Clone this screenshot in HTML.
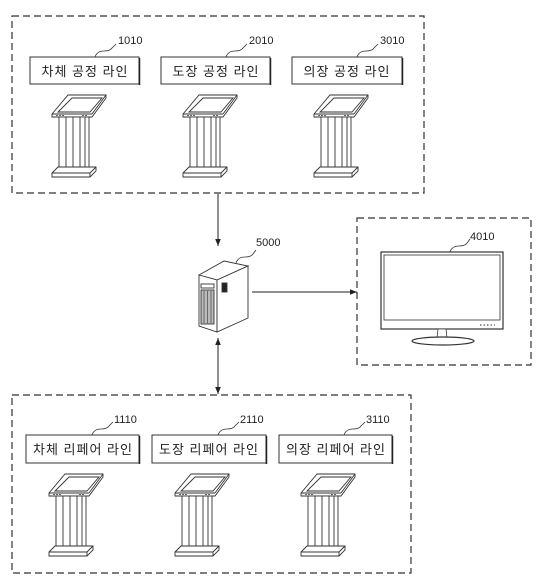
<!DOCTYPE html>
<html><head><meta charset="utf-8"><style>
html,body{margin:0;padding:0;background:#fff;}
svg{display:block}
text{font-family:"Liberation Sans","Noto Sans CJK KR",sans-serif;fill:#222}
</style></head><body>
<svg width="541" height="588" viewBox="0 0 541 588" xmlns="http://www.w3.org/2000/svg">
<defs>
<g id="k" fill="#fff" stroke="#333" stroke-width="0.9">
  <polygon points="16,0 54,0 54,3 40,22 0,22 0,19"/>
  <polygon points="20,3 50,3 38,17 6,17"/>
  <line x1="0" y1="19" x2="40" y2="19"/><line x1="40" y1="19" x2="54" y2="0"/>
  <g stroke-width="0.8"><line x1="4" y1="20.5" x2="13" y2="20.5" stroke-dasharray="2,1"/><line x1="30" y1="20.5" x2="35" y2="20.5" stroke-dasharray="2,1"/></g>
  <rect x="7" y="22" width="30" height="51"/>
  <line x1="14" y1="22" x2="14" y2="73"/><line x1="21" y1="22" x2="21" y2="73"/><line x1="28" y1="22" x2="28" y2="73"/><line x1="33" y1="22" x2="33" y2="73"/>
  <polygon points="0,78 6,72 44,72 44,76 38,82 0,82"/>
  <line x1="0" y1="78" x2="38" y2="78"/><line x1="38" y1="78" x2="44" y2="72"/><line x1="38" y1="78" x2="38" y2="82"/>
</g>
<marker id="a" viewBox="0 0 10 10" refX="10" refY="5" markerWidth="7" markerHeight="7" orient="auto-start-reverse"><path d="M0,1 L10,5 L0,9z" fill="#222"/></marker>
</defs>
<g fill="none" stroke="#333" stroke-width="1.2" stroke-dasharray="7,4">
  <rect x="12" y="16" width="412" height="177"/>
  <rect x="357" y="218" width="174" height="147"/>
  <rect x="12" y="395" width="399" height="178"/>
</g>
<g fill="#fff" stroke="#333" stroke-width="1">
  <rect x="30" y="57" width="109" height="27"/><rect x="161" y="57" width="109" height="27"/><rect x="292" y="57" width="110" height="27"/>
  <rect x="26" y="435" width="113" height="28"/><rect x="152" y="435" width="114" height="28"/><rect x="279" y="435" width="113" height="28"/>
</g>
<g stroke="#222" stroke-width="1.5"><line x1="139.5" y1="58" x2="139.5" y2="85"/><line x1="270.5" y1="58" x2="270.5" y2="85"/><line x1="402.5" y1="58" x2="402.5" y2="85"/><line x1="139.5" y1="436" x2="139.5" y2="464"/><line x1="266.5" y1="436" x2="266.5" y2="464"/><line x1="392.5" y1="436" x2="392.5" y2="464"/></g>
<g font-size="13" text-anchor="middle" letter-spacing="1" fill="#333">
  <text x="85" y="76">차체 공정 라인</text><text x="216" y="76">도장 공정 라인</text><text x="347" y="76">의장 공정 라인</text>
  <text x="83" y="454">차체 리페어 라인</text><text x="209" y="454">도장 리페어 라인</text><text x="336" y="454">의장 리페어 라인</text>
</g>
<g font-size="11">
  <text x="118" y="44">1010</text><text x="249" y="44">2010</text><text x="380" y="44">3010</text>
  <text x="114" y="423">1110</text><text x="240" y="423">2110</text><text x="366" y="423">3110</text>
  <text x="256" y="246">5000</text><text x="470" y="240">4010</text>
</g>
<g fill="none" stroke="#333" stroke-width="0.8">
  <path d="M95,57 q2,-6 9,-6 q6,0 8,-3 l4,-4"/><path d="M226,57 q2,-6 9,-6 q6,0 8,-3 l4,-4"/><path d="M357,57 q2,-6 9,-6 q6,0 8,-3 l4,-4"/>
  <path d="M92,435 q2,-6 9,-6 q6,0 8,-3 l4,-4"/><path d="M218,435 q2,-6 9,-6 q6,0 8,-3 l4,-4"/><path d="M344,435 q2,-6 9,-6 q6,0 8,-3 l4,-4"/>
  <path d="M236,263 q2,-6 9,-6 q6,0 8,-3 l3,-4"/><path d="M450,252 q2,-6 9,-6 q6,0 8,-3 l3,-4"/>
</g>
<use href="#k" x="52" y="95"/><use href="#k" x="183" y="95"/><use href="#k" x="314" y="95"/>
<use href="#k" x="49" y="474"/><use href="#k" x="175" y="474"/><use href="#k" x="301" y="474"/>
<g stroke="#222" stroke-width="1" fill="none">
  <line x1="218" y1="194" x2="218" y2="246" marker-end="url(#a)"/>
  <line x1="252" y1="292" x2="357" y2="292" marker-end="url(#a)"/>
  <line x1="218" y1="338" x2="218" y2="394" marker-start="url(#a)" marker-end="url(#a)"/>
</g>
<g stroke="#333" stroke-width="0.9" fill="#fff">
  <polygon points="199,275 224,261 248,266 217,280"/>
  <polygon points="199,275 217,280 217,332 199,326"/>
  <polygon points="217,280 248,266 248,318 217,332"/>
  <rect x="201" y="284" width="13" height="4"/>
  <rect x="201" y="290" width="13" height="34" fill="#bbb"/>
  <g stroke="#555" stroke-width="0.8"><line x1="204" y1="291" x2="204" y2="323"/><line x1="207.5" y1="291" x2="207.5" y2="323"/><line x1="211" y1="291" x2="211" y2="323"/></g>
  <rect x="222" y="283" width="5" height="9" fill="#222"/>
</g>
<g stroke="#333" fill="#fff">
  <rect x="381" y="252" width="122" height="77" stroke-width="1.2"/>
  <rect x="384" y="255" width="116" height="65" stroke-width="0.8"/>
  <polygon points="438,329 446,329 447,338 437,338" stroke-width="0.8"/>
  <ellipse cx="443" cy="341" rx="31" ry="4" stroke-width="1.2"/>
  <line x1="480" y1="325" x2="495" y2="325" stroke-dasharray="1.5,2"/>
</g>
</svg>
</body></html>
